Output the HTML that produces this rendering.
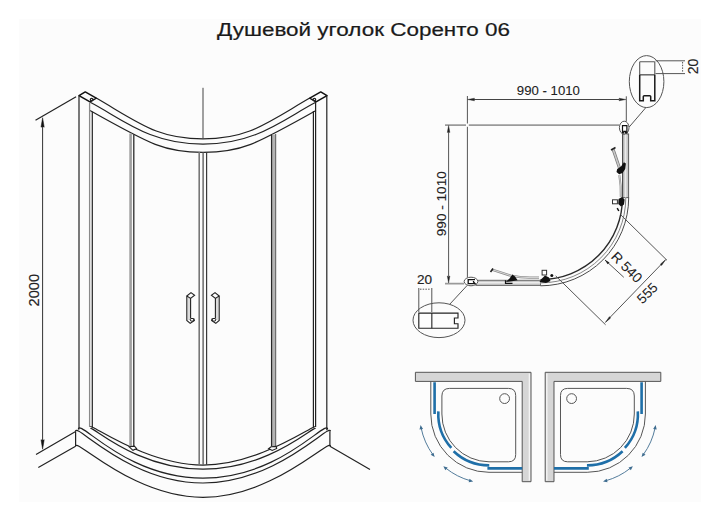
<!DOCTYPE html>
<html><head><meta charset="utf-8"><style>
html,body{margin:0;padding:0;background:#fff;}
svg{display:block;font-family:"Liberation Sans",sans-serif;}
</style></head><body>
<svg width="720" height="521" viewBox="0 0 720 521">
<rect x="0" y="0" width="720" height="521" fill="#fff"/>
<rect x="19" y="19" width="682" height="483" fill="#fcfcfc"/>
<text x="363.5" y="36.2" text-anchor="middle" font-size="18" fill="#1a1a1a" textLength="293" lengthAdjust="spacingAndGlyphs" stroke="#1a1a1a" stroke-width="0.2">Душевой уголок Соренто 06</text>
<path d="M96.25,98.1 C140.31,123.65 157.76,138.92 203,138.92 C248.24,138.92 265.69,123.65 309.75,98.1" stroke="#222" stroke-width="1.2" fill="none"/>
<path d="M90.2,102.3 C121.08,118.2 149.11,144.19 203,144.19 C256.89,144.19 284.92,118.2 315.8,102.3" stroke="#222" stroke-width="1.2" fill="none"/>
<path d="M90,110.5 C151.32,144.98 164.96,152.29 203,152.29 C241.04,152.29 254.68,144.98 316,110.5" stroke="#222" stroke-width="1.2" fill="none"/>
<path d="M90.6,426.9 C90.61,423.5 146.53,465.14 203,465.14 C259.47,465.14 315.39,423.5 315.4,426.9" stroke="#222" stroke-width="1.2" fill="none"/>
<path d="M90.6,428.75 C90.63,424.28 136.17,469.2 203,469.2 C269.83,469.2 315.37,424.28 315.4,428.75" stroke="#222" stroke-width="1.2" fill="none"/>
<path d="M78.3,429.5 C78.35,417.21 125.28,478.11 203,478.11 C280.72,478.11 327.65,417.21 327.7,429.5" stroke="#222" stroke-width="1.2" fill="none"/>
<path d="M75.6,431.25 C75.66,422.21 129.14,483 203,483 C276.86,483 330.34,422.21 330.4,431.25" stroke="#222" stroke-width="1.2" fill="none"/>
<path d="M75.6,446.25 C75.67,437.31 132.67,497.29 203,497.29 C273.33,497.29 330.33,437.31 330.4,446.25" stroke="#222" stroke-width="1.2" fill="none"/>
<path d="M75.6,431.25 V446.25 M329.9,431.3 V446.25" stroke="#222" stroke-width="1.2" fill="none"/>
<path d="M36,454.5 L75.6,431.4 M38.3,467.4 L75.6,446.25 M329.9,446.25 L370,469.5" stroke="#222" stroke-width="1.2" fill="none"/>
<path d="M35.5,120.3 L76.1,96.8" stroke="#222" stroke-width="1.2" fill="none"/>
<path d="M203,87.8 V139" stroke="#444" stroke-width="1" fill="none"/>
<path d="M42.6,126 V441" stroke="#333" stroke-width="1" fill="none"/>
<path d="M42.6,117.7 L44.2,127.2 L42.6,126.4 L41,127.2 Z M42.6,449.2 L44.2,439.7 L42.6,440.5 L41,439.7 Z" fill="#111" stroke="#111" stroke-width="0.5"/>
<path d="M79,95.6 L85.25,91.9 L96.25,98.1 L90,101.9 Z" stroke="#111" stroke-width="1.5" fill="none" stroke-linejoin="round"/>
<circle cx="91.6" cy="99.6" r="1.3" stroke="#222" stroke-width="1.2" fill="none"/>
<path d="M79,95.6 V429.4" stroke="#222" stroke-width="1.2" fill="none"/>
<path d="M89.6,101.9 V427" stroke="#8a8a8a" stroke-width="1.3" fill="none"/>
<path d="M92.3,111.8 V427.5" stroke="#222" stroke-width="1.2" fill="none"/>
<path d="M327,95.6 L320.75,91.9 L309.75,98.1 L316,101.9 Z" stroke="#111" stroke-width="1.5" fill="none" stroke-linejoin="round"/>
<circle cx="314.4" cy="99.6" r="1.3" stroke="#222" stroke-width="1.2" fill="none"/>
<path d="M326.8,95.6 V430.3" stroke="#222" stroke-width="1.2" fill="none"/>
<path d="M315.6,102.3 V427" stroke="#222" stroke-width="1.2" fill="none"/>
<path d="M313.4,111 V427.5" stroke="#222" stroke-width="1.2" fill="none"/>
<path d="M130.6,133.5 V446.5" stroke="#a0a0a0" stroke-width="2.6" fill="none"/>
<path d="M133.8,134.5 V446.5" stroke="#2a2a2a" stroke-width="1.3" fill="none"/>
<path d="M129.2,446.8 L134.4,446.1 L136.6,448.5 L133,450.3 Z" stroke="#222" stroke-width="1.1" fill="#fff"/>
<path d="M273.8,134.5 V446.5" stroke="#b4b4b4" stroke-width="3.2" fill="none"/>
<path d="M271.6,134.8 V446.5" stroke="#2a2a2a" stroke-width="1.3" fill="none"/>
<path d="M275.7,134 V446.5" stroke="#555" stroke-width="1" fill="none"/>
<path d="M271.2,446.8 L268.6,448.6 L272.2,450.5 L276.7,448.5 L276.2,446.4 Z" stroke="#222" stroke-width="1.1" fill="#fff"/>
<path d="M199.2,152 V464.8" stroke="#777" stroke-width="1.6" fill="none"/>
<path d="M203.1,152 V464.8" stroke="#555" stroke-width="1.3" fill="none"/>
<path d="M206.6,152 V464.8" stroke="#3a3a3a" stroke-width="1.2" fill="none"/>
<g><path d="M187.5,297 V320 H190 V298 Z" fill="#dcdcdc"/><path d="M186.8,296 L191,292.6 L194.6,295.2 L190.6,298.4 Z M186.8,296 V320.5 L190.2,323.3 L194.4,320.6 L193.6,318.2 M190.6,298.4 V318.6" stroke="#222" stroke-width="1.1" fill="none"/><ellipse cx="192" cy="319.8" rx="1.8" ry="1.4" stroke="#222" stroke-width="1" fill="none"/></g>
<g transform="translate(406,0) scale(-1,1)"><path d="M187.5,297 V320 H190 V298 Z" fill="#dcdcdc"/><path d="M186.8,296 L191,292.6 L194.6,295.2 L190.6,298.4 Z M186.8,296 V320.5 L190.2,323.3 L194.4,320.6 L193.6,318.2 M190.6,298.4 V318.6" stroke="#222" stroke-width="1.1" fill="none"/><ellipse cx="192" cy="319.8" rx="1.8" ry="1.4" stroke="#222" stroke-width="1" fill="none"/></g>
<text transform="translate(39.3,290.2) rotate(-90)" text-anchor="middle" font-size="14.6" fill="#222" stroke="#222" stroke-width="0.15">2000</text>
<path d="M467.4,96 V123.5 M467.4,126.8 V277.5 M626.3,96.3 V121.5" stroke="#555" stroke-width="1" fill="none"/>
<path d="M445,125.1 H466 M468.8,125.1 H619.4 M445,283.6 H464.1" stroke="#9a9a9a" stroke-width="1.6" fill="none"/>
<path d="M474,99.5 H619" stroke="#444" stroke-width="1" fill="none"/>
<path d="M467.6,99.5 L474.5,98.2 L474,99.5 L474.5,100.8 Z M625.9,99.5 L619,98.2 L619.5,99.5 L619,100.8 Z" fill="#222" stroke="#222" stroke-width="0.4"/>
<path d="M448.6,132 V276" stroke="#555" stroke-width="1" fill="none"/>
<path d="M448.6,125.5 L447.3,132.5 L448.6,132 L449.9,132.5 Z M448.6,283 L447.3,276 L448.6,276.5 L449.9,276 Z" fill="#222" stroke="#222" stroke-width="0.4"/>
<text x="548.4" y="95.2" text-anchor="middle" font-size="13.2" fill="#222" stroke="#222" stroke-width="0.1">990 - 1010</text>
<text transform="translate(445.6,203.7) rotate(-90)" text-anchor="middle" font-size="13.6" fill="#222" stroke="#222" stroke-width="0.1">990 - 1010</text>
<rect x="622.6" y="134" width="6" height="63.6" fill="#cacaca" stroke="#5a5a5a" stroke-width="1"/>
<path d="M625.6,134 V197.6" stroke="#ececec" stroke-width="1.5" fill="none"/>
<rect x="476" y="280.3" width="64.5" height="5.1" fill="#cacaca" stroke="#6a6a6a" stroke-width="1"/>
<path d="M476,282.85 H540.5" stroke="#ececec" stroke-width="1.5" fill="none"/>
<path d="M622.6,197.6 V134" stroke="#4a4a4a" stroke-width="1" fill="none"/>
<path d="M622.5,197.6 A82,82 0 0 1 540.5,279.6" stroke="#2a2a2a" stroke-width="1.4" fill="none"/>
<path d="M625.8,197.6 A85.3,85.3 0 0 1 540.5,282.9" stroke="#777" stroke-width="0.9" fill="none"/>
<path d="M628.7,197.6 A88.2,88.2 0 0 1 540.5,285.8" stroke="#4a4a4a" stroke-width="1.0" fill="none"/>
<ellipse cx="624.2" cy="127.7" rx="4.8" ry="6.5" stroke="#555" stroke-width="1" fill="#fff"/>
<path d="M622.5,125.6 H626.9 V133 H625.6 V131.4 H623.8 V133 H622.5 Z" stroke="#111" stroke-width="1.2" fill="none"/>
<ellipse cx="471" cy="281.5" rx="6.85" ry="4.3" stroke="#555" stroke-width="1" fill="#fff"/>
<path d="M475,279.6 H468.2 V283.6 H475 L473.5,282 V281" stroke="#111" stroke-width="1.3" fill="none"/>
<path d="M629.2,127 L646.2,107.2 M467.2,285.4 L449.8,304.2" stroke="#555" stroke-width="1" fill="none"/>
<ellipse cx="646.6" cy="81.6" rx="17.3" ry="26" stroke="#555" stroke-width="1" fill="none"/>
<path d="M639.7,61.7 H654.8 M639.7,61.7 V74.8 M654.8,61.7 V74.8" stroke="#555" stroke-width="1.1" fill="none"/>
<path d="M639.5,74.8 H655" stroke="#666" stroke-width="1.5" fill="none"/>
<path d="M639.7,74.8 V100.8 H643.3 V96.5 Q643.3,95.7 644.3,95.7 H649.7 Q650.7,95.7 650.7,96.5 V100.8 H654.8 V74.8" stroke="#1a1a1a" stroke-width="1.5" fill="none"/>
<path d="M655.5,60.8 H685 M655.5,73.6 H685" stroke="#555" stroke-width="1" fill="none"/>
<path d="M682.6,62 V72.5" stroke="#555" stroke-width="1" stroke-dasharray="1.5,1.2" fill="none"/>
<text transform="translate(697.9,66.4) rotate(-90)" text-anchor="middle" font-size="14" fill="#222" stroke="#222" stroke-width="0.15">20</text>
<ellipse cx="439" cy="320.2" rx="26" ry="17.4" stroke="#555" stroke-width="1" fill="none"/>
<path d="M431.8,313.1 V328.2" stroke="#444" stroke-width="1.3" fill="none"/>
<path d="M458,313.1 H418.8 V328.2 H458 V323.7 H454.4 V318 H458 Z" stroke="#222" stroke-width="1.15" fill="none"/>
<path d="M418.8,288 V312 M431.8,288 V312" stroke="#555" stroke-width="1" fill="none"/>
<path d="M420,289.2 H430.6" stroke="#555" stroke-width="1" stroke-dasharray="1.5,1.2" fill="none"/>
<text x="424.5" y="284.3" text-anchor="middle" font-size="13.6" fill="#222" stroke="#222" stroke-width="0.15">20</text>
<path d="M613,149 L619.3,167.5" stroke="#777" stroke-width="3" fill="none"/>
<path d="M613,149 L619.3,167.5" stroke="#c8c8c8" stroke-width="1.6" fill="none"/>
<path d="M611,150 L615.5,147.5" stroke="#222" stroke-width="1.6" fill="none"/>
<path d="M619.3,175 Q621.2,186 620.8,197" stroke="#888" stroke-width="2" fill="none"/>
<path d="M619.3,175 Q621.2,186 620.8,197" stroke="#ddd" stroke-width="0.8" fill="none"/>
<path d="M617.2,168.9 L621.2,166.2 L623.9,162.2 L625.9,163.5 L625.2,168.9 L622.6,172.9 L619.2,174.3 L616.5,172 Z" fill="#111"/>
<rect x="612.5" y="199.8" width="4.9" height="4" stroke="#333" stroke-width="1" fill="#fff"/>
<path d="M618.5,199 L622,197.1 L624.6,199.5 L624,204.5 L621,206.5 L618.3,204 Z" fill="#111"/>
<path d="M617.2,208.2 L618.8,211" stroke="#111" stroke-width="1.5"/>
<path d="M492,269.6 L510.6,275.6 Q520,277.6 530,277.6 H539" stroke="#8a8a8a" stroke-width="2.4" fill="none"/>
<path d="M492,269.6 L510.6,275.6 Q520,277.6 530,277.6 H539" stroke="#d8d8d8" stroke-width="1" fill="none"/>
<path d="M490.5,272 L493,268.5" stroke="#222" stroke-width="1.6" fill="none"/>
<path d="M505.8,282 L509.5,278.5 L512.4,274.6 L515,276.5 L517.6,280.3 L512,281.3 Z" fill="#111"/>
<path d="M505.5,280.3 V283.3 H512.5" stroke="#111" stroke-width="1.2" fill="none"/>
<rect x="542.1" y="270.3" width="4.5" height="4.7" stroke="#333" stroke-width="1" fill="#fff"/>
<path d="M539.5,282 L542,278.5 L545,275.5 L549,277.5 L550.5,281 L546,283 Z" fill="#111"/>
<circle cx="551.8" cy="275.6" r="1.5" fill="#111"/>
<path d="M620.5,214.6 L667,260.3 M555.7,275.9 L605.6,324.8" stroke="#555" stroke-width="1" fill="none"/>
<path d="M610,317.4 L661,264.6" stroke="#555" stroke-width="1" fill="none"/>
<path d="M605.4,322.4 L610.6,317.9 L610,317.3 L609.5,316.7 Z M665.6,259.7 L660.4,264.2 L661,264.8 L661.5,265.4 Z" fill="#222" stroke="#222" stroke-width="0.6"/>
<path d="M605,260 L623.8,277.3" stroke="#555" stroke-width="1" fill="none"/>
<path d="M604.8,259.8 L609.5,262.5 L607.6,264.2 Z" fill="#222"/>
<text transform="translate(623.4,270.6) rotate(45)" text-anchor="middle" font-size="14" fill="#222" stroke="#222" stroke-width="0.05">R 540</text>
<text transform="translate(650.6,296.4) rotate(-45)" text-anchor="middle" font-size="13.6" fill="#222" stroke="#222" stroke-width="0.05">555</text>
<g><path d="M415.4,372.3 H531 V481.7 H522.2 V381.4 H415.4 Z" fill="#d6d6d6" stroke="#555" stroke-width="1"/>
<path d="M529.4,373.5 V480.5" stroke="#f4f4f4" stroke-width="1.4"/>
<path d="M430.8,381.4 V414 A58.2,58.2 0 0 0 489,472.3 H522.2" stroke="#555" stroke-width="1" fill="none"/>
<path d="M441.9,414 V396 Q441.9,388.4 449.5,388.4 H508.5 Q515.7,388.4 515.7,395.6 V454.6 Q515.7,461.8 508.5,461.8 H489 A47.6,47.6 0 0 1 441.9,414 Z" stroke="#555" stroke-width="1" fill="none"/>
<circle cx="504.6" cy="398.6" r="4.9" stroke="#555" stroke-width="1" fill="none"/>
<path d="M434.6,382.2 V413.9 M487.4,468.4 H522.2" stroke="#1f6fa8" stroke-width="2.6" fill="none"/>
<path d="M438.37,411.35 A50.7,50.7 0 0 0 451.32,447.92 M453.62,451.28 A51.4,51.4 0 0 0 489.27,465.4" stroke="#1f6fa8" stroke-width="2.6" fill="none"/>
<path d="M421.09,427.82 A69.3,69.3 0 0 0 432.94,454.73 M445.86,468.23 A69.3,69.3 0 0 0 470.48,480.78" stroke="#3f6d90" stroke-width="0.9" fill="none"/>
<path d="M420.59,425.08 L423.04,428.94 L419.49,429.51 Z M434.69,457.05 L430.67,454.87 L433.49,452.64 Z M443.35,466.14 L447.7,467.55 L445.33,470.26 Z M473.18,481.47 L468.68,482.26 L469.5,478.76 Z" fill="#3f6d90"/></g>
<g transform="translate(1076.2,0) scale(-1,1)"><path d="M415.4,372.3 H531 V481.7 H522.2 V381.4 H415.4 Z" fill="#d6d6d6" stroke="#555" stroke-width="1"/>
<path d="M529.4,373.5 V480.5" stroke="#f4f4f4" stroke-width="1.4"/>
<path d="M430.8,381.4 V414 A58.2,58.2 0 0 0 489,472.3 H522.2" stroke="#555" stroke-width="1" fill="none"/>
<path d="M441.9,414 V396 Q441.9,388.4 449.5,388.4 H508.5 Q515.7,388.4 515.7,395.6 V454.6 Q515.7,461.8 508.5,461.8 H489 A47.6,47.6 0 0 1 441.9,414 Z" stroke="#555" stroke-width="1" fill="none"/>
<circle cx="504.6" cy="398.6" r="4.9" stroke="#555" stroke-width="1" fill="none"/>
<path d="M434.6,382.2 V413.9 M487.4,468.4 H522.2" stroke="#1f6fa8" stroke-width="2.6" fill="none"/>
<path d="M438.37,411.35 A50.7,50.7 0 0 0 451.32,447.92 M453.62,451.28 A51.4,51.4 0 0 0 489.27,465.4" stroke="#1f6fa8" stroke-width="2.6" fill="none"/>
<path d="M421.09,427.82 A69.3,69.3 0 0 0 432.94,454.73 M445.86,468.23 A69.3,69.3 0 0 0 470.48,480.78" stroke="#3f6d90" stroke-width="0.9" fill="none"/>
<path d="M420.59,425.08 L423.04,428.94 L419.49,429.51 Z M434.69,457.05 L430.67,454.87 L433.49,452.64 Z M443.35,466.14 L447.7,467.55 L445.33,470.26 Z M473.18,481.47 L468.68,482.26 L469.5,478.76 Z" fill="#3f6d90"/></g>
</svg>
</body></html>
